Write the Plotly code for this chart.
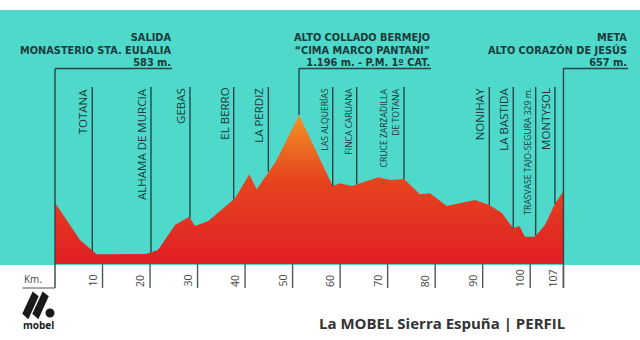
import plotly.graph_objects as go
import numpy as np

W, H = 640, 340

# ---- data ----
km = [0, 5.26, 8.0, 8.78, 19.15, 21.67, 25.25, 28.26, 29.46, 32.26, 37.88, 40.89,
      42.45, 44.89, 46.3, 47.7, 51.35, 58.44, 59.97, 62.44, 63.49, 68.03, 70.5,
      73.44, 76.81, 78.91, 82.43, 88.38, 91.39, 94.0, 96.44, 97.71, 98.9, 101.0,
      103.1, 104.86, 105.2, 107]
elev = [583, 322, 241, 222, 225, 252, 427, 485, 420, 455, 614, 781,
        677, 800, 862, 951, 1196, 700, 719, 700, 712, 760, 742,
        749, 642, 649, 560, 602, 567, 513, 404, 420, 345, 345,
        427, 560, 574, 665]

station_names = ["TOTANA", "ALHAMA DE MURCIA", "GEBAS", "EL BERRO", "LA PERDIZ",
                 "LAS ALQUERÍAS", "FINCA CARUANA", "CRUCE ZARZADILLA<br>DE TOTANA",
                 "NONIHAY", "LA BASTIDA", "TRASVASE TAJO-SEGURA 329 m.", "MONTYSOL"]
station_km = [7.85, 20.2, 28.4, 37.6, 44.9, 58.44, 63.49, 73.44, 91.4, 96.44, 101.15, 105.2]
station_small = [False, False, False, False, False, True, True, True, False, False, True, False]

tick_km = [10, 20, 30, 40, 50, 60, 70, 80, 90, 100, 107]
tick_labels = ["10", "20", "30", "40", "50", "60", "70", "80", "90", "100", "107"]

start_text = ["SALIDA", "MONASTERIO STA. EULALIA", "583 m."]
summit_text = ["ALTO COLLADO BERMEJO", "“CIMA MARCO PANTANI”", "1.196 m. - P.M. 1º CAT."]
finish_text = ["META", "ALTO CORAZÓN DE JESÚS", "657 m."]
summit_km = 51.35
finish_km = 107

title = "La MOBEL Sierra Espuña | PERFIL"

# ---- scales / styling ----
PX_PER_KM = 4.752
X0_PX = 55
M_PER_PX = 1 / 0.1431
Y_TOP = 583 + 202.7 * M_PER_PX
X_RANGE = [-X0_PX / PX_PER_KM, (W - X0_PX) / PX_PER_KM]
Y_RANGE = [Y_TOP - H * M_PER_PX, Y_TOP]
BASE_ELEV = Y_TOP - 264 * M_PER_PX


def e_px(yp):
    return Y_TOP - yp * M_PER_PX


def px(xp):
    return xp / W


def py(yp):
    return 1 - yp / H


TEAL = "#4ed9ca"
DARK = "#1c3a3b"
LINE = "#1f4848"
FONT = "Open Sans"
HFONT = "DejaVu Sans"

fig = go.Figure()

poly_x = [km[0]] + km + [km[-1]]
poly_y = [BASE_ELEV] + elev + [BASE_ELEV]
fig.add_trace(go.Scatter(
    x=poly_x, y=poly_y, mode="lines", fill="toself",
    line=dict(width=0, color="rgba(0,0,0,0)"),
    fillgradient=dict(type="vertical",
                      colorscale=[[0, "#e01f24"], [0.55, "#e6431f"], [1, "#f39124"]],
                      start=BASE_ELEV, stop=1196),
    hoverinfo="skip", showlegend=False))

shapes = []
annotations = []

# teal band
shapes.append(dict(type="rect", xref="paper", yref="paper", x0=0, x1=1,
                   y0=py(265), y1=py(10), fillcolor=TEAL, line=dict(width=0), layer="below"))

# station lines and labels
for name, k, small in zip(station_names, station_km, station_small):
    e_bot = float(np.interp(k, km, elev))
    shapes.append(dict(type="line", xref="x", yref="y", x0=k, x1=k,
                       y0=e_bot, y1=e_px(87), line=dict(color=LINE, width=1.4)))
    annotations.append(dict(xref="x", yref="y", x=k, y=e_px(87), xshift=-1.5,
                            text=name, showarrow=False, textangle=-90,
                            xanchor="right", yanchor="top", align="right",
                            borderpad=0,
                            font=dict(family=FONT, size=8.6 if small else 11.5,
                                      color=DARK)))

# start / finish vertical lines
for k in [0, finish_km]:
    shapes.append(dict(type="line", xref="x", yref="y", x0=k, x1=k,
                       y0=e_px(288), y1=e_px(69), line=dict(color="#2f4444", width=1.4)))
# summit line
shapes.append(dict(type="line", xref="x", yref="y", x0=summit_km, x1=summit_km,
                   y0=1196, y1=e_px(68.5), line=dict(color=LINE, width=1.4)))

# header underlines
for x0, x1 in [(55, 172), (299, 431), (563, 628)]:
    shapes.append(dict(type="line", xref="paper", yref="paper", x0=px(x0), x1=px(x1),
                       y0=py(68.5), y1=py(68.5), line=dict(color="#2f4444", width=1.4)))

# header texts (one multi-line block each)
for texts, xr in [(start_text, 172), (summit_text, 431), (finish_text, 628)]:
    annotations.append(dict(xref="paper", yref="paper", x=px(xr), y=py(69.5),
                            text="<br>".join("<b>" + t + "</b>" for t in texts),
                            showarrow=False, align="right",
                            xanchor="right", yanchor="bottom", borderpad=0,
                            font=dict(family=HFONT, size=9.8, color=DARK)))

# km ticks
for k, lab in zip(tick_km, tick_labels):
    shapes.append(dict(type="line", xref="x", yref="y", x0=k, x1=k,
                       y0=e_px(264), y1=e_px(288), line=dict(color="#555555", width=1.4)))
    annotations.append(dict(xref="x", yref="y", x=k, y=e_px(288), xshift=-2,
                            text=lab, showarrow=False, textangle=-90,
                            xanchor="right", yanchor="bottom", borderpad=0,
                            font=dict(family=FONT, size=10.5, color="#444444")))

# Km. label
shapes.append(dict(type="line", xref="paper", yref="paper", x0=px(22.5), x1=px(55),
                   y0=py(288), y1=py(288), line=dict(color="#555555", width=1.2)))
annotations.append(dict(xref="paper", yref="paper", x=px(23), y=py(287), text="Km.",
                        showarrow=False, xanchor="left", yanchor="bottom", borderpad=0,
                        font=dict(family=FONT, size=10, color="#444444")))

# logo
logo_paths = [
    [(23.5, 313.5), (28, 317.5), (37.5, 296.5), (33, 293)],
    [(33.5, 313.5), (38, 317.5), (47.5, 296.5), (43, 293)],
]
for pts in logo_paths:
    d = "M " + " L ".join(f"{px(a)},{py(b)}" for a, b in pts) + " Z"
    shapes.append(dict(type="path", xref="paper", yref="paper", path=d,
                       fillcolor="#1a1a1a", line=dict(color="#1a1a1a", width=2)))
shapes.append(dict(type="circle", xref="paper", yref="paper",
                   x0=px(45.5), x1=px(54.5), y0=py(317.5), y1=py(308.5),
                   fillcolor="#1a1a1a", line=dict(width=0)))
annotations.append(dict(xref="paper", yref="paper", x=px(38.5), y=py(324.5),
                        text="<b>mobel</b>", showarrow=False, xanchor="center",
                        yanchor="middle", borderpad=0,
                        font=dict(family=FONT, size=10, color="#1a1a1a")))

# title
annotations.append(dict(xref="paper", yref="paper", x=px(566), y=py(323),
                        text="<b>" + title + "</b>", showarrow=False, xanchor="right",
                        yanchor="middle", borderpad=0,
                        font=dict(family=FONT, size=15, color="#333333")))

fig.update_layout(
    width=W, height=H, autosize=False,
    margin=dict(l=0, r=0, t=0, b=0),
    paper_bgcolor="white", plot_bgcolor="white",
    xaxis=dict(range=X_RANGE, visible=False, fixedrange=True),
    yaxis=dict(range=Y_RANGE, visible=False, fixedrange=True),
    shapes=shapes, annotations=annotations, showlegend=False,
)

fig.write_html("out.html")
